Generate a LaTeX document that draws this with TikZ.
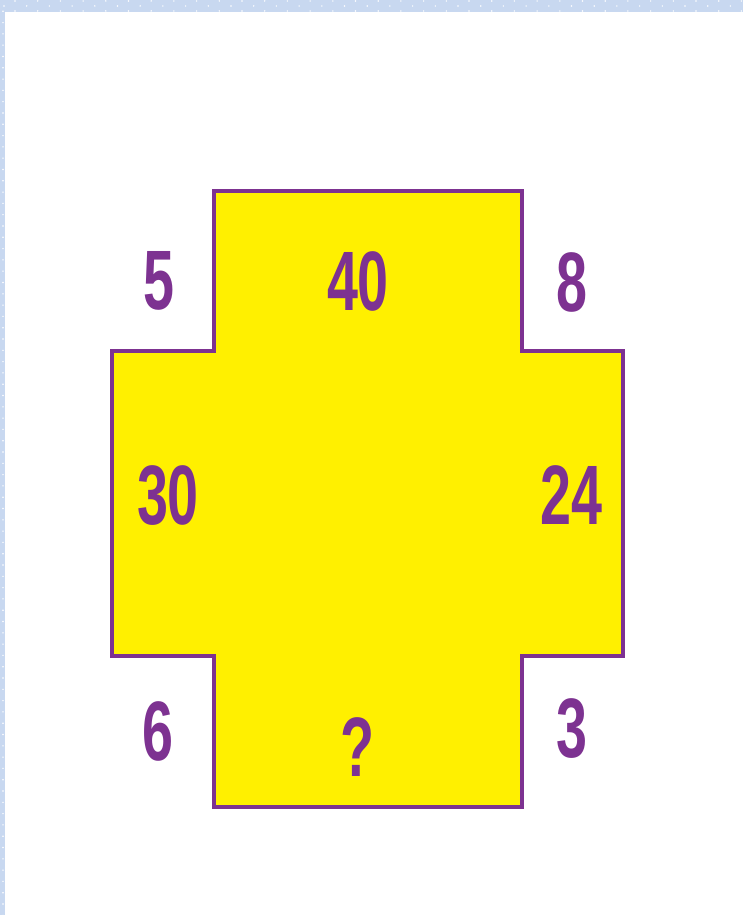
\documentclass[tikz,border=0pt]{standalone}
\usepackage{fontspec}
\usepackage{xcolor}
\usepackage{tikz}
\usetikzlibrary{positioning}
\newfontfamily\numfont{Liberation Sans}[FakeStretch=0.66]
\definecolor{crossfill}{RGB}{255,240,0}
\definecolor{crossline}{RGB}{125,50,145}
\definecolor{framebg}{RGB}{200,216,240}

\begin{document}
\begin{tikzpicture}[
  x=0.02cm, y=-0.02cm,
  num/.style={text=crossline, font=\numfont\bfseries\fontsize{48}{50}\selectfont, inner sep=0pt},
  dotmark/.style={fill=white, draw=none}
]
  \useasboundingbox (0,0) rectangle (743,915);
  % frame
  \fill[framebg] (0,0) rectangle (743,12);
  \fill[framebg] (0,0) rectangle (5,915);
  \foreach \i in {0,...,32} {
    \fill[dotmark] (4+22.7*\i,6) circle (0.8);
    \fill[dotmark] (15+22.7*\i,1) circle (0.8);
    \fill[dotmark] (15+22.7*\i,11) circle (0.8);
  }
  \foreach \j in {1,...,82} {
    \fill[dotmark] (3,11.3*\j) circle (0.8);
  }
  % cross
  \draw[crossline, fill=crossfill, line width=2.8pt]
    (214,191) -- (522,191) -- (522,351) -- (623,351) -- (623,656) -- (522,656)
    -- (522,807) -- (214,807) -- (214,656) -- (112,656) -- (112,351) -- (214,351) -- cycle;

  \node[num] (topleft) at (159,281) {5};
  \node[num] (top) at (358,281) {40};
  \node[num] (topright) at (572,282) {8};
  \node[num] (left) at (168,496) {30};
  \node[num] (right) at (571,495) {24};
  \node[num] (botleft) at (158,731) {6};
  \node[num] (bottom) at (357,747) {?};
  \node[num] (botright) at (572,729) {3};
\end{tikzpicture}
\end{document}
